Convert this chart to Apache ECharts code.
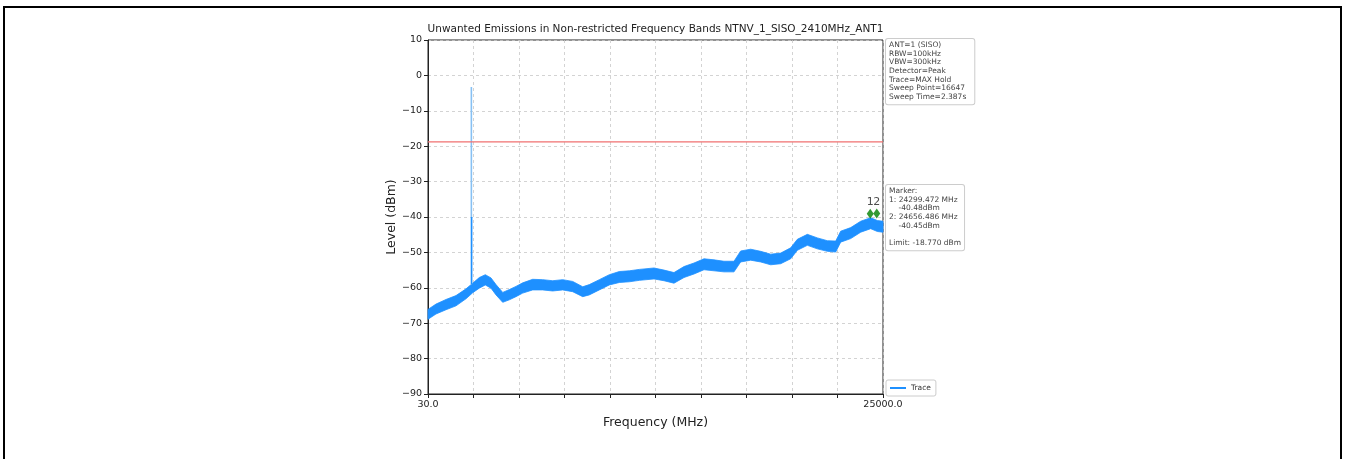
<!DOCTYPE html>
<html>
<head>
<meta charset="utf-8">
<script src="https://cdn.jsdelivr.net/npm/echarts@6/dist/echarts.min.js"></script>
<style>
html,body{margin:0;padding:0;background:#fff;}
#chart{width:1345px;height:459px;}
</style>
</head>
<body>
<div id="chart"></div>
<script>
// ---- data ----
const chartTitle = 'Unwanted Emissions in Non-restricted Frequency Bands NTNV_1_SISO_2410MHz_ANT1';
const xTickLabels = ['30.0', '25000.0'];
const yTicks = [-90, -80, -70, -60, -50, -40, -30, -20, -10, 0, 10];
const traceFreq = [30, 469, 1018, 1567, 2115, 2483, 2845, 3175, 3487, 3762, 4130, 4492, 4859, 5227, 5776, 6325, 6873, 7422, 7971, 8520, 8882, 9431, 9980, 10529, 11078, 11626, 12433, 12982, 13530, 14079, 14628, 15177, 15726, 16274, 16823, 17189, 17738, 18287, 18836, 19385, 19934, 20300, 20849, 21398, 21946, 22404, 22678, 23227, 23776, 24325, 24691, 25000];
const traceUpper = [-66.1, -64.6, -63.3, -62.2, -60.3, -58.7, -57.1, -56.3, -57.2, -59.1, -61.3, -60.5, -59.6, -58.6, -57.6, -57.7, -58.0, -57.7, -58.2, -59.7, -59.1, -57.7, -56.3, -55.4, -55.2, -54.8, -54.4, -55.0, -55.7, -54.0, -53.0, -51.8, -52.1, -52.5, -52.5, -49.6, -49.1, -49.7, -50.5, -50.2, -48.7, -46.3, -44.9, -45.9, -46.7, -46.8, -44.0, -43.0, -41.2, -40.2, -41.0, -41.2];
const traceLower = [-68.9, -67.4, -66.2, -65.1, -63.1, -61.4, -60.1, -59.2, -60.1, -62.0, -64.1, -63.4, -62.5, -61.5, -60.6, -60.6, -60.9, -60.6, -61.1, -62.5, -62.0, -60.6, -59.2, -58.5, -58.3, -57.9, -57.5, -58.0, -58.7, -57.1, -56.1, -54.9, -55.2, -55.5, -55.5, -52.7, -52.2, -52.7, -53.5, -53.2, -51.8, -49.4, -48.0, -49.0, -49.7, -49.9, -47.1, -46.1, -44.3, -43.3, -44.1, -44.3];
const spikeFreq = [2410, 2410];
const spikeLevel = [-59.0, -3.3];
const spikeCoreFreq = [2425, 2425];
const spikeCoreLevel = [-59.0, -40.0];
const limitLevel = -18.77;
const markerNames = ['1', '2'];
const markerFreq = [24299.472, 24656.486];
const markerLevel = [-40.48, -40.45];
const infoLines = ['ANT=1 (SISO)', 'RBW=100kHz', 'VBW=300kHz', 'Detector=Peak', 'Trace=MAX Hold', 'Sweep Point=16647', 'Sweep Time=2.387s'];
const markerLines = ['Marker:', '1: 24299.472 MHz', '    -40.48dBm', '2: 24656.486 MHz', '    -40.45dBm', '', 'Limit: -18.770 dBm'];

// ---- chart ----
const FONT = 'DejaVu Sans';
const BLUE = '#1e90ff';
const chart = echarts.init(document.getElementById('chart'), null, {renderer: 'canvas'});

const fmtY = v => (v < 0 ? '\u2212' + Math.abs(v) : String(v));

// band between lower and upper envelope, drawn through the axis scales
function renderBand(params, api) {
  if (params.dataIndex !== 0) return null;
  const top = traceFreq.map((f, i) => api.coord([f, traceUpper[i]]));
  const bot = traceFreq.map((f, i) => api.coord([f, traceLower[i]])).reverse();
  return {
    type: 'polygon',
    shape: {points: top.concat(bot)},
    style: {fill: BLUE, stroke: BLUE, lineWidth: 0.8}
  };
}

const option = {
  animation: false,
  backgroundColor: '#fff',
  textStyle: {fontFamily: FONT},
  grid: {left: 428, right: 462, top: 40, bottom: 65, show: true, borderColor: '#222', borderWidth: 1, containLabel: false},
  legend: {
    data: ['Trace'], left: 886, top: 380, orient: 'vertical',
    backgroundColor: '#fff', borderColor: '#ccc', borderWidth: 1, borderRadius: 2,
    padding: [4, 5, 4, 4], itemWidth: 16, itemHeight: 2, icon: 'rect', itemGap: 4,
    textStyle: {fontFamily: FONT, fontSize: 7.5, color: '#333'}
  },
  xAxis: {
    type: 'value', min: 30, max: 25000, interval: 2497,
    name: 'Frequency (MHz)', nameLocation: 'middle', nameGap: 22,
    nameTextStyle: {fontFamily: FONT, fontSize: 12.5, color: '#222'},
    axisLine: {show: true, onZero: false, lineStyle: {color: '#222', width: 1}},
    axisTick: {show: true, length: 4, lineStyle: {color: '#222'}},
    axisLabel: {
      fontFamily: FONT, fontSize: 9.5, color: '#222', margin: 6, showMinLabel: true, showMaxLabel: true,
      formatter: v => (Math.abs(v - 30) < 1 ? xTickLabels[0] : (Math.abs(v - 25000) < 1 ? xTickLabels[1] : ''))
    },
    splitLine: {show: true, lineStyle: {color: '#c8c8c8', type: [3, 3], width: 0.8}}
  },
  yAxis: {
    type: 'value', min: yTicks[0], max: yTicks[yTicks.length - 1], interval: 10,
    name: 'Level (dBm)', nameLocation: 'middle', nameGap: 30,
    nameTextStyle: {fontFamily: FONT, fontSize: 12.5, color: '#222'},
    axisLine: {show: true, onZero: false, lineStyle: {color: '#222', width: 1}},
    axisTick: {show: true, length: 4, lineStyle: {color: '#222'}},
    axisLabel: {fontFamily: FONT, fontSize: 9.5, color: '#222', margin: 6, formatter: fmtY},
    splitLine: {show: true, lineStyle: {color: '#c8c8c8', type: [3, 3], width: 0.8}}
  },
  series: [
    {name: 'Trace', type: 'custom', renderItem: renderBand, color: BLUE,
     data: traceFreq.map((f, i) => [f, traceLower[i], traceUpper[i]]),
     encode: {x: 0, y: [1, 2]}, z: 3, silent: true},
    {name: 'spike', type: 'line', data: spikeFreq.map((f, i) => [f, spikeLevel[i]]), symbol: 'none',
     lineStyle: {width: 1.6, color: '#86c0f4'}, z: 4},
    {name: 'spikeCore', type: 'line', data: spikeCoreFreq.map((f, i) => [f, spikeCoreLevel[i]]), symbol: 'none',
     lineStyle: {width: 1.4, color: BLUE}, z: 4},
    {name: 'limit', type: 'line', data: [[30, limitLevel], [25000, limitLevel]], symbol: 'none',
     lineStyle: {width: 1.3, color: '#f07070'}, z: 5},
    {name: 'markers', type: 'scatter', data: markerFreq.map((f, i) => ({value: [f, markerLevel[i]], name: markerNames[i]})),
     symbol: 'diamond', symbolSize: [7, 10], symbolOffset: [0, -5], itemStyle: {color: '#008000'},
     label: {show: true, position: 'top', distance: 1, formatter: p => p.name, fontFamily: FONT, fontSize: 11, color: '#222'},
     z: 6}
  ],
  graphic: [
    {type: 'rect', silent: true, shape: {x: 4, y: 7, width: 1337, height: 470},
     style: {fill: 'none', stroke: '#000', lineWidth: 2}},
    {type: 'text', silent: true, x: 655.5, y: 29,
     style: {text: chartTitle, font: '10.5px "DejaVu Sans"', fill: '#222', align: 'center', verticalAlign: 'middle'}},
    {type: 'text', silent: true, x: 886, y: 39,
     style: {text: infoLines.join('\n'), font: '7.5px "DejaVu Sans"', fill: '#444', lineHeight: 8.6,
             backgroundColor: '#fff', borderColor: '#ccc', borderWidth: 1, borderRadius: 2, padding: [2, 8, 3, 3]}},
    {type: 'text', silent: true, x: 886, y: 185,
     style: {text: markerLines.join('\n'), font: '7.5px "DejaVu Sans"', fill: '#444', lineHeight: 8.6,
             backgroundColor: '#fff', borderColor: '#ccc', borderWidth: 1, borderRadius: 2, padding: [2, 3, 3, 3]}}
  ]
};
chart.setOption(option);
</script>
</body>
</html>
